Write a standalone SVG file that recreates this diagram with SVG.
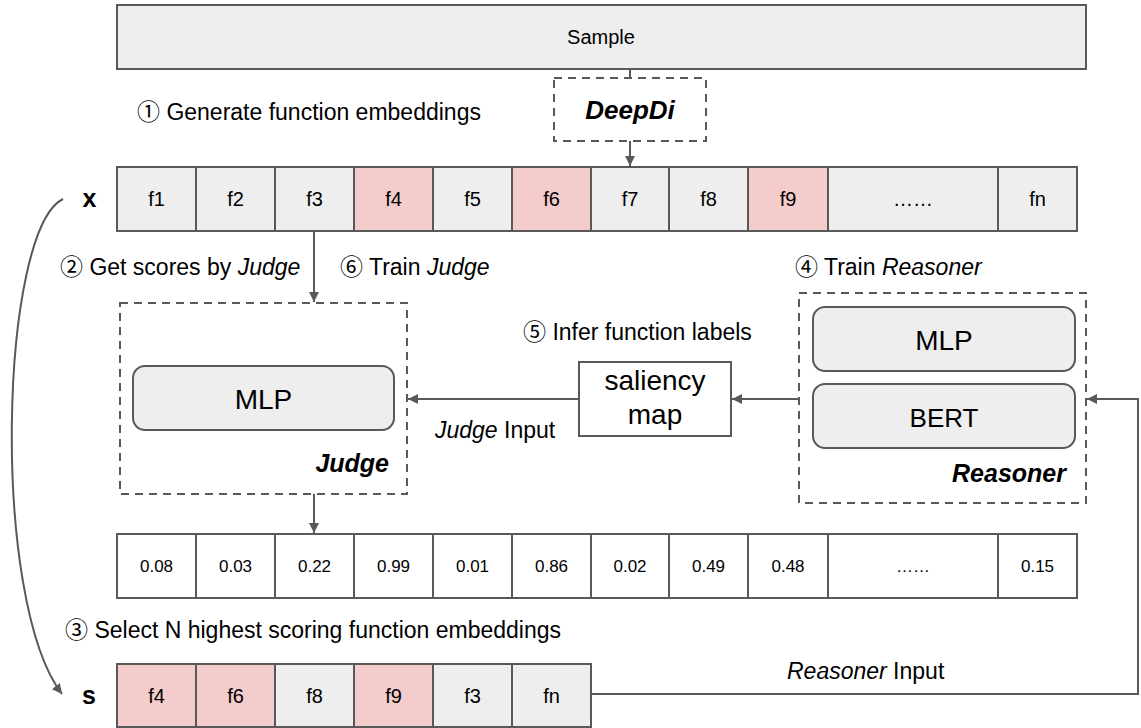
<svg xmlns="http://www.w3.org/2000/svg" width="1141" height="728" viewBox="0 0 1141 728">
<style>
text{font-family:"Liberation Sans","Noto Sans CJK JP",Arial,sans-serif;fill:#000}
.box{stroke:#595959;stroke-width:2}
.g{fill:#eeeeee}
.p{fill:#f4cccc}
.w{fill:#ffffff}
.dash{fill:none;stroke:#595959;stroke-width:2;stroke-dasharray:8 6}
.c{fill:none;stroke:#595959;stroke-width:2}
.fl{font-size:20px;text-anchor:middle}
.sc{font-size:17px;text-anchor:middle}
.lab{font-size:23px}
.bi{font-weight:bold;font-style:italic}
</style>
<defs>
<marker id="ah" viewBox="0 0 10 10" refX="10" refY="5" markerWidth="5" markerHeight="5" markerUnits="strokeWidth" orient="auto">
<path d="M0,0 L10,5 L0,10 z" fill="#595959"/>
</marker>
</defs>

<g id="sample">
<rect class="box g" x="117" y="5" width="969" height="64"/>
<text x="601" y="44" font-size="20" text-anchor="middle">Sample</text>
</g>

<g id="deepdi">
<rect class="dash" x="554" y="78" width="152" height="63"/>
<text x="630" y="119" font-size="26" text-anchor="middle" class="bi">DeepDi</text>
</g>

<g id="step1"><text x="137" y="120" class="lab">① Generate function embeddings</text></g>

<g id="xlabel"><text x="89.5" y="207" font-size="25" font-weight="bold" text-anchor="middle">x</text></g>

<g id="xrow">
<rect class="box g" x="117" y="167" width="79" height="64"/>
<rect class="box g" x="196" y="167" width="79" height="64"/>
<rect class="box g" x="275" y="167" width="79" height="64"/>
<rect class="box p" x="354" y="167" width="79" height="64"/>
<rect class="box g" x="433" y="167" width="79" height="64"/>
<rect class="box p" x="512" y="167" width="79" height="64"/>
<rect class="box g" x="591" y="167" width="78" height="64"/>
<rect class="box g" x="669" y="167" width="79" height="64"/>
<rect class="box p" x="748" y="167" width="80" height="64"/>
<rect class="box g" x="828" y="167" width="170" height="64"/>
<rect class="box g" x="998" y="167" width="79" height="64"/>
<text class="fl" x="156.5" y="206">f1</text>
<text class="fl" x="235.5" y="206">f2</text>
<text class="fl" x="314.5" y="206">f3</text>
<text class="fl" x="393.5" y="206">f4</text>
<text class="fl" x="472.5" y="206">f5</text>
<text class="fl" x="551.5" y="206">f6</text>
<text class="fl" x="630" y="206">f7</text>
<text class="fl" x="708.5" y="206">f8</text>
<text class="fl" x="788" y="206">f9</text>
<text class="fl" x="913" y="206">……</text>
<text class="fl" x="1037.5" y="206">fn</text>
</g>

<g id="step2"><text x="60" y="275" class="lab">② Get scores by <tspan font-style="italic">Judge</tspan></text></g>
<g id="step6"><text x="340" y="275" class="lab">⑥ Train <tspan font-style="italic">Judge</tspan></text></g>
<g id="step4"><text x="795" y="275" class="lab">④ Train <tspan font-style="italic">Reasoner</tspan></text></g>
<g id="step5"><text x="523" y="340" class="lab">⑤ Infer function labels</text></g>

<g id="judge">
<rect class="dash" x="120" y="303" width="287" height="191"/>
<rect class="box g" x="133" y="366" width="261" height="64" rx="12"/>
<text x="263.5" y="409" font-size="28" text-anchor="middle">MLP</text>
<text x="389" y="472" font-size="25" text-anchor="end" class="bi">Judge</text>
</g>

<g id="saliency">
<rect class="box w" x="579" y="362" width="152" height="74"/>
<text x="655" y="390" font-size="28" text-anchor="middle">saliency</text>
<text x="655" y="424" font-size="28" text-anchor="middle">map</text>
</g>

<g id="judgeinput"><text x="435" y="438" class="lab"><tspan font-style="italic">Judge</tspan> Input</text></g>

<g id="reasoner">
<rect class="dash" x="799" y="293" width="287" height="210"/>
<rect class="box g" x="813" y="307" width="262" height="64" rx="12"/>
<text x="944" y="350" font-size="28" text-anchor="middle">MLP</text>
<rect class="box g" x="813" y="384" width="262" height="64" rx="12"/>
<text x="944" y="427" font-size="26" text-anchor="middle">BERT</text>
<text x="1066" y="482" font-size="25" text-anchor="end" class="bi">Reasoner</text>
</g>

<g id="scores">
<rect class="box w" x="117" y="534" width="79" height="64"/>
<rect class="box w" x="196" y="534" width="79" height="64"/>
<rect class="box w" x="275" y="534" width="79" height="64"/>
<rect class="box w" x="354" y="534" width="79" height="64"/>
<rect class="box w" x="433" y="534" width="79" height="64"/>
<rect class="box w" x="512" y="534" width="79" height="64"/>
<rect class="box w" x="591" y="534" width="78" height="64"/>
<rect class="box w" x="669" y="534" width="79" height="64"/>
<rect class="box w" x="748" y="534" width="80" height="64"/>
<rect class="box w" x="828" y="534" width="170" height="64"/>
<rect class="box w" x="998" y="534" width="79" height="64"/>
<text class="sc" x="156.5" y="572">0.08</text>
<text class="sc" x="235.5" y="572">0.03</text>
<text class="sc" x="314.5" y="572">0.22</text>
<text class="sc" x="393.5" y="572">0.99</text>
<text class="sc" x="472.5" y="572">0.01</text>
<text class="sc" x="551.5" y="572">0.86</text>
<text class="sc" x="630" y="572">0.02</text>
<text class="sc" x="708.5" y="572">0.49</text>
<text class="sc" x="788" y="572">0.48</text>
<text class="sc" x="913" y="572">……</text>
<text class="sc" x="1037.5" y="572">0.15</text>
</g>

<g id="step3"><text x="65" y="638" class="lab">③ Select N highest scoring function embeddings</text></g>

<g id="slabel"><text x="89" y="704" font-size="25" font-weight="bold" text-anchor="middle">s</text></g>

<g id="srow">
<rect class="box p" x="117" y="664" width="79" height="63"/>
<rect class="box p" x="196" y="664" width="79" height="63"/>
<rect class="box g" x="275" y="664" width="79" height="63"/>
<rect class="box p" x="354" y="664" width="79" height="63"/>
<rect class="box g" x="433" y="664" width="79" height="63"/>
<rect class="box g" x="512" y="664" width="79" height="63"/>
<text class="fl" x="156.5" y="703">f4</text>
<text class="fl" x="235.5" y="703">f6</text>
<text class="fl" x="314.5" y="703">f8</text>
<text class="fl" x="393.5" y="703">f9</text>
<text class="fl" x="472.5" y="703">f3</text>
<text class="fl" x="551.5" y="703">fn</text>
</g>

<g id="reasonerinput"><text x="787" y="679" class="lab"><tspan font-style="italic">Reasoner</tspan> Input</text></g>

<g id="connectors">
<path class="c" d="M630,69 V78"/>
<path class="c" d="M630,141 V166" marker-end="url(#ah)"/>
<path class="c" d="M314,231 V302" marker-end="url(#ah)"/>
<path class="c" d="M314,494 V533" marker-end="url(#ah)"/>
<path class="c" d="M799,399 H732" marker-end="url(#ah)"/>
<path class="c" d="M579,399 H408" marker-end="url(#ah)"/>
<path class="c" d="M591,694 H1138 V399 H1087" marker-end="url(#ah)"/>
<path class="c" d="M63,199 C0,230 -10,600 62,694" marker-end="url(#ah)"/>
</g>
</svg>
